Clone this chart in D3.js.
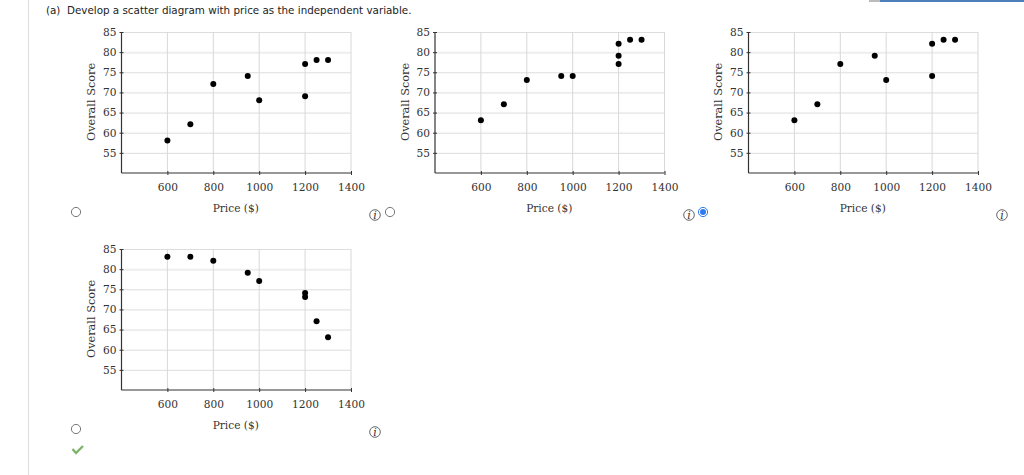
<!DOCTYPE html>
<html><head><meta charset="utf-8">
<script src="https://cdn.jsdelivr.net/npm/d3@7/dist/d3.min.js"></script>
<style>
html,body{margin:0;padding:0;background:#fff;overflow:hidden}
svg{display:block}
.tick-label{font-family:"DejaVu Serif",serif;font-size:10.6px;fill:#333}
.title{font-family:"DejaVu Serif",serif;font-size:10.6px;fill:#333}
.ytitle{font-size:11.3px}
</style></head><body>
<svg id="c" width="1024" height="475"></svg>
<script>
const heading = "(a)  Develop a scatter diagram with price as the independent variable.";
const xTicks = [600,800,1000,1200,1400];
const yTicks = [55,60,65,70,75,80,85];
const xTitle = "Price ($)";
const yTitle = "Overall Score";

const pricesA = [600,700,800,950,1000,1200,1200,1250,1300];
const scoresA = [58,62,72,74,68,69,77,78,78];
const pricesB = [600,700,800,950,1000,1200,1200,1200,1250,1300];
const scoresB = [63,67,73,74,74,77,79,82,83,83];
const pricesC = [600,700,800,950,1000,1200,1200,1250,1300];
const scoresC = [63,67,77,79,73,74,82,83,83];
const pricesD = [600,700,800,950,1000,1200,1200,1250,1300];
const scoresD = [83,83,82,79,77,74,73,67,63];

const svg = d3.select("#c");
svg.append("line").attr("x1",28.5).attr("x2",28.5).attr("y1",0).attr("y2",475).attr("stroke","#ddd").attr("stroke-width",1);
svg.append("rect").attr("x",869).attr("y",0).attr("width",155).attr("height",2).attr("fill","#4d7fb8");
svg.append("rect").attr("x",869).attr("y",0).attr("width",11).attr("height",2).attr("fill","#bbb");
svg.append("text").attr("x",46).attr("y",13.5).attr("xml:space","preserve")
  .style("font-family","'DejaVu Sans',Verdana,sans-serif").style("font-size","10.35px").attr("fill","#222").text(heading);

const x = d3.scaleLinear().domain([400,1400]).range([0,229.5]);
const y = d3.scaleLinear().domain([50,85]).range([141,0]);

function panel(left, top, prices, scores){
  const g = svg.append("g").attr("transform",`translate(${left},${top})`);
  const grid = g.append("g");
  yTicks.forEach(v=>grid.append("line").attr("x1",0).attr("x2",x(1400)).attr("y1",y(v)+.5).attr("y2",y(v)+.5)
    .attr("stroke", v===80?"#eee":"#ddd").attr("stroke-width", v===80?2:1));
  xTicks.forEach(v=>grid.append("line").attr("x1",x(v)).attr("x2",x(v)).attr("y1",0).attr("y2",y(50))
    .attr("stroke","#d8d8d8").attr("stroke-width",1));
  const ax = g.append("g").attr("transform",`translate(0,${y(50)})`)
    .call(d3.axisBottom(x).tickValues(xTicks).tickSize(3).tickPadding(7).tickFormat(d3.format("d")));
  const ay = g.append("g")
    .call(d3.axisLeft(y).tickValues(yTicks).tickSize(2).tickPadding(3).tickFormat(d3.format("d")));
  ay.selectAll(".tick line").attr("x2",-2).attr("x1",2);
  ax.selectAll(".tick line").attr("y1",-2).attr("y2",2);
  [ax,ay].forEach(a=>{
    a.select(".domain").attr("stroke","#333").attr("stroke-width",1.2);
    a.selectAll(".tick line").attr("stroke","#333");
    a.selectAll("text").attr("class","tick-label").attr("font-family",null).attr("font-size",null);
  });
  ax.select(".domain").attr("d",`M0,0H${x(1400)}`);
  ay.select(".domain").attr("d",`M0,0V${y(50)}`);
  ay.selectAll(".tick text").attr("dy","0.32em");
  g.selectAll("circle.pt").data(prices.map((p,i)=>[p,scores[i]])).join("circle").attr("class","pt")
    .attr("cx",d=>x(d[0])).attr("cy",d=>y(d[1])-.3).attr("r",3).attr("fill","#000");
  g.append("text").attr("class","title").attr("text-anchor","middle").attr("x",x(900)-.5).attr("y",180).text(xTitle);
  g.append("text").attr("class","title ytitle").attr("text-anchor","middle")
    .attr("transform",`translate(-26.5,${y(67.5)-.5}) rotate(-90)`).text(yTitle);
}
panel(121.5,32,pricesA,scoresA);
panel(435,32,pricesB,scoresB);
panel(748.5,32,pricesC,scoresC);
panel(121.5,249,pricesD,scoresD);

function radio(cx,cy,on){
  svg.append("circle").attr("cx",cx).attr("cy",cy).attr("r",4.6).attr("fill","#fff")
    .attr("stroke",on?"#2f7bf0":"#777").attr("stroke-width",1);
  if(on) svg.append("circle").attr("cx",cx).attr("cy",cy).attr("r",3).attr("fill","#2f7bf0");
}
function info(cx,cy){
  svg.append("circle").attr("cx",cx).attr("cy",cy).attr("r",5.3).attr("fill","#fff").attr("stroke","#555").attr("stroke-width",.9);
  svg.append("text").attr("x",cx).attr("y",cy+4).attr("text-anchor","middle")
    .style("font-family","'DejaVu Serif',serif").style("font-style","italic").style("font-size","11px").attr("fill","#333").text("i");
}
[[76,212,false],[390,212,false],[703,212,true],[76,429,false]].forEach(d=>radio(...d));
[[375,215],[689,215],[1002,215],[375,432]].forEach(d=>info(...d));
svg.append("path").attr("d","M72.5,449 L76,453 L83,446").attr("fill","none").attr("stroke","#7cb56b").attr("stroke-width",2.4);
</script></body></html>
